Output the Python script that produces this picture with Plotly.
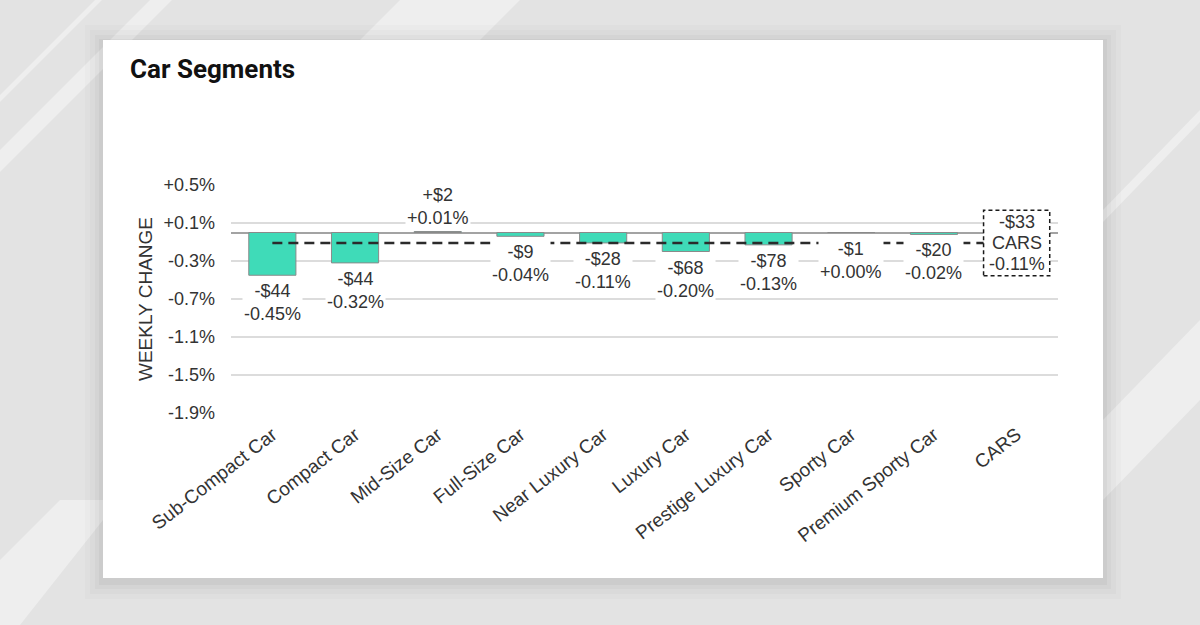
import plotly.graph_objects as go

# ---- data ----
segments = ["Sub-Compact Car", "Compact Car", "Mid-Size Car", "Full-Size Car",
            "Near Luxury Car", "Luxury Car", "Prestige Luxury Car", "Sporty Car",
            "Premium Sporty Car", "CARS"]
pct_change = [-0.45, -0.32, 0.01, -0.04, -0.11, -0.20, -0.13, 0.00, -0.02, -0.11]
dollar_change = [-44, -44, 2, -9, -28, -68, -78, -1, -20, -33]
tick_vals = [0.5, 0.1, -0.3, -0.7, -1.1, -1.5, -1.9]
tick_text = ["+0.5%", "+0.1%", "-0.3%", "-0.7%", "-1.1%", "-1.5%", "-1.9%"]

W, H = 1200, 625
L, R, T, B = 231, 1058, 185, 413  # plot area in pixels


def fx(px):
    return (px - L) / (R - L)


def fy(py):
    return (B - py) / (B - T)


def dollar_fmt(d):
    return ("+" if d > 0 else "-") + "$" + str(abs(d))


def pct_fmt(p):
    return f"{p:+.2f}%"


FONT = "Liberation Sans, Arial, sans-serif"
TXT = "#333333"

fig = go.Figure()

# bars (all segments except the CARS total)
fig.add_trace(go.Bar(
    x=segments[:-1], y=pct_change[:-1],
    marker=dict(color="#3FDBB8", line=dict(color="#8a8a8a", width=1)),
    hoverinfo="skip", showlegend=False,
))

# dashed CARS average line
fig.add_trace(go.Scatter(
    x=[segments[0], segments[-1]], y=[pct_change[-1], pct_change[-1]],
    mode="lines", line=dict(color="#2b2b2b", width=2.6, dash="10px,6px"),
    hoverinfo="skip", showlegend=False,
))

annotations = []
for i, seg in enumerate(segments[:-1]):
    p = pct_change[i]
    up = p > 0
    annotations.append(dict(
        x=seg, y=p, xref="x", yref="y",
        text=dollar_fmt(dollar_change[i]) + "<br>" + pct_fmt(p),
        showarrow=False, font=dict(family=FONT, size=18, color=TXT),
        bgcolor="white", borderpad=1,
        yanchor="bottom" if up else "top",
        yshift=2 if up else -4,
    ))

# CARS box text (three lines, tighter spacing)
cars_lines = [dollar_fmt(dollar_change[-1]), "CARS", pct_fmt(pct_change[-1])]
for j, line in enumerate(cars_lines):
    annotations.append(dict(
        x=segments[-1], y=pct_change[-1], xref="x", yref="y",
        text=line, showarrow=False, font=dict(family=FONT, size=18, color=TXT),
        yanchor="middle", yshift=21 * (1 - j),
    ))

shapes = []
# background stripes
stripes = [
    [(0, 150), (150, 0), (172, 0), (0, 172)],
    [(0, 95), (95, 0), (102, 0), (0, 102)],
    [(360, 40), (400, 0), (520, 0), (480, 40)],
    [(1103, 210), (1200, 110), (1200, 122), (1103, 222)],
    [(1103, 420), (1200, 320), (1200, 400), (1103, 500)],
    [(0, 560), (60, 500), (103, 500), (103, 520), (20, 625), (0, 625)],
]
for poly in stripes:
    path = "M " + " L ".join(f"{fx(a):.5f},{fy(b):.5f}" for a, b in poly) + " Z"
    shapes.append(dict(type="path", xref="paper", yref="paper", path=path,
                       fillcolor="rgba(255,255,255,0.4)", line=dict(width=0), layer="below"))
# soft shadow around card
for k, op in [(18, 0.015), (13, 0.02), (8, 0.025), (4, 0.035)]:
    shapes.append(dict(type="rect", xref="paper", yref="paper",
                       x0=fx(103 - k), x1=fx(1103 + k), y0=fy(578 + k + 3), y1=fy(40 - k + 3),
                       fillcolor=f"rgba(0,0,0,{op})", line=dict(width=0), layer="below"))
# card
shapes.append(dict(type="rect", xref="paper", yref="paper",
                   x0=fx(103), x1=fx(1103), y0=fy(578), y1=fy(40),
                   fillcolor="white", line=dict(width=0), layer="below"))
# CARS dashed box
ci = len(segments) - 1
shapes.append(dict(type="rect", xref="x", yref="y",
                   x0=ci - 0.4, x1=ci + 0.4,
                   y0=pct_change[-1] - 0.345, y1=pct_change[-1] + 0.345,
                   fillcolor="white", line=dict(color="#1a1a1a", width=1.5, dash="4px,3px"),
                   layer="above"))

fig.update_layout(
    width=W, height=H,
    margin=dict(l=L, r=W - R, t=T, b=H - B, pad=0),
    paper_bgcolor="#e3e3e3", plot_bgcolor="rgba(0,0,0,0)",
    bargap=0.43,
    font=dict(family=FONT, color=TXT),
    title=dict(text="<b>Car Segments</b>", x=130 / W, xanchor="left",
               y=1 - 69 / H, yanchor="middle", xref="container", yref="container",
               font=dict(family="Roboto, Inter, sans-serif", size=26, color="#111111")),
    annotations=annotations,
    shapes=shapes,
    showlegend=False,
)
fig.update_xaxes(
    categoryorder="array", categoryarray=segments, range=[-0.5, len(segments) - 0.5],
    tickangle=-38, tickfont=dict(family=FONT, size=19, color=TXT),
    showgrid=False, showline=False, zeroline=False, ticks="", ticklabelstandoff=6,
)
fig.update_yaxes(
    range=[-1.9, 0.5], tickvals=tick_vals, ticktext=tick_text,
    tickfont=dict(family=FONT, size=18, color=TXT),
    showgrid=True, gridcolor="#dcdcdc", gridwidth=1.5,
    zeroline=True, zerolinecolor="#a3a3a3", zerolinewidth=1.5,
    showline=False, ticks="", ticklabelstandoff=15,
    title=dict(text="WEEKLY CHANGE", font=dict(family=FONT, size=19, color=TXT), standoff=5),
)

fig.write_html("out.html", config={"displayModeBar": False},
               post_script="document.body.style.margin='0px';document.body.style.overflow='hidden';")
